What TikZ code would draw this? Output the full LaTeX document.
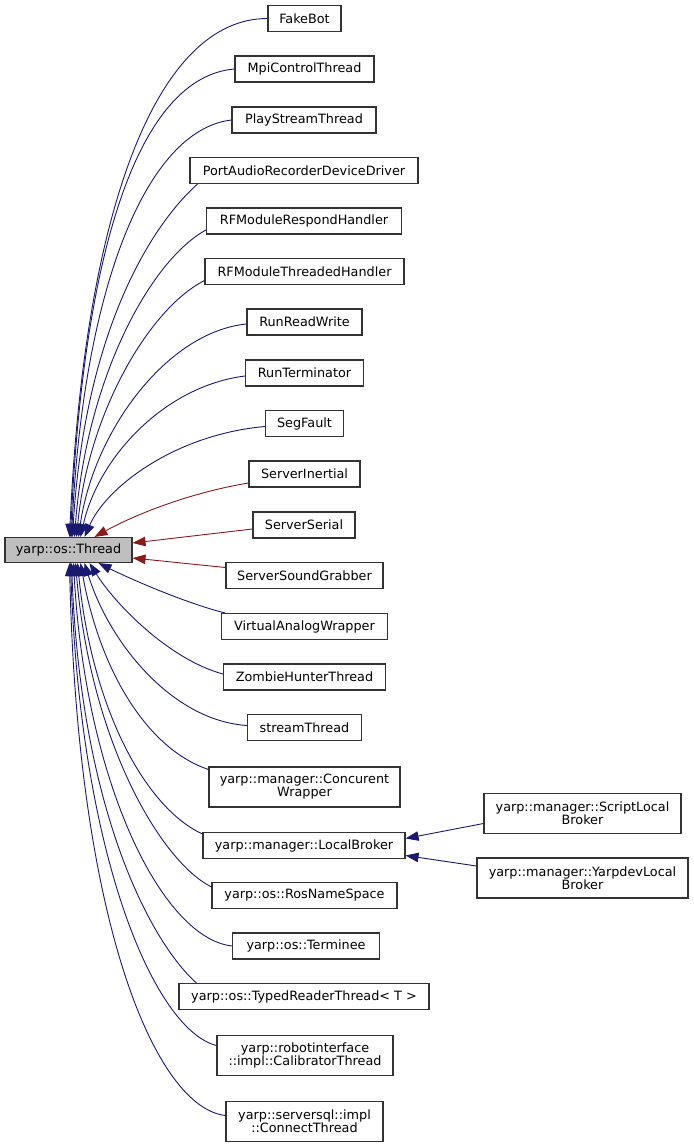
\documentclass[tikz,border=0pt]{standalone}
\usepackage{fontspec}
\setmainfont{DejaVu Sans}
\usetikzlibrary{arrows.meta}
\definecolor{mblue}{HTML}{191970}
\definecolor{fred}{HTML}{8B1A1A}
\definecolor{bord}{HTML}{333333}
\definecolor{gfill}{HTML}{BFBFBF}
\tikzset{
  cls/.style={draw=bord, line width=1.1pt, fill=white, inner sep=0pt, minimum height=26pt, align=center,
    font=\fontsize{12.8}{13}\selectfont},
  cls2/.style={cls, minimum height=40pt},
  pub/.style={draw=mblue, line width=0.9pt, {Triangle[length=13pt,width=9.5pt]}-},
  priv/.style={draw=fred, line width=0.9pt, {Triangle[length=13pt,width=9.5pt]}-},
}
\begin{document}
\begin{tikzpicture}[x=1pt,y=-1pt]
\useasboundingbox (0,0) rectangle (693,1147);
\node[cls, fill=gfill, minimum width=127pt, minimum height=25pt] (thr) at (68.5,550) {yarp::os::Thread};
\node[cls, minimum width=73pt]  (fb)  at (304.5,18.5) {FakeBot};
\node[cls, minimum width=139pt] (mpi) at (304.5,69) {MpiControlThread};
\node[cls, minimum width=144pt] (ps)  at (304,120) {PlayStreamThread};
\node[cls, minimum width=228pt] (pa)  at (304,170.5) {PortAudioRecorderDeviceDriver};
\node[cls, minimum width=195pt] (rfr) at (304,221) {RFModuleRespondHandler};
\node[cls, minimum width=199pt] (rft) at (304.5,271.5) {RFModuleThreadedHandler};
\node[cls, minimum width=115pt] (rrw) at (304.5,322) {RunReadWrite};
\node[cls, minimum width=118pt] (rt)  at (304.5,373) {RunTerminator};
\node[cls, minimum width=78pt]  (sf)  at (304.5,423.5) {SegFault};
\node[cls, minimum width=111pt] (si)  at (304.5,474) {ServerInertial};
\node[cls, minimum width=102pt] (ss)  at (304,525) {ServerSerial};
\node[cls, minimum width=157pt] (ssg) at (304.5,575.5) {ServerSoundGrabber};
\node[cls, minimum width=166pt] (vaw) at (304.5,626.5) {VirtualAnalogWrapper};
\node[cls, minimum width=162pt] (zht) at (304.5,677) {ZombieHunterThread};
\node[cls, minimum width=114pt] (st)  at (304.5,727.5) {streamThread};
\node[cls2, minimum width=191pt] (cw) at (304.5,787) {yarp::manager::Concurent\\Wrapper};
\node[cls, minimum width=202pt] (lb)  at (304,845.5) {yarp::manager::LocalBroker};
\node[cls, minimum width=185pt] (rns) at (304.5,895.5) {yarp::os::RosNameSpace};
\node[cls, minimum width=147pt] (ter) at (306,946) {yarp::os::Terminee};
\node[cls, minimum width=250pt] (trt) at (304,996.5) {yarp::os::TypedReaderThread< T >};
\node[cls2, minimum width=176pt] (cal) at (305,1055.5) {yarp::robotinterface\\::impl::CalibratorThread};
\node[cls2, minimum width=157pt] (con) at (304.5,1121.5) {yarp::serversql::impl\\::ConnectThread};
\node[cls2, minimum width=197pt] (slb) at (582.5,813.5) {yarp::manager::ScriptLocal\\Broker};
\node[cls2, minimum width=211pt] (ylb) at (582.5,878) {yarp::manager::YarpdevLocal\\Broker};
% upward edges
\draw[pub] ([xshift=1pt]thr.north)  .. controls +(15,-330) and +(-110,0) .. (fb.west);
\draw[pub] ([xshift=2pt]thr.north)  .. controls +(13,-290) and +(-95,8) .. (mpi.west);
\draw[pub] ([xshift=3pt]thr.north)  .. controls +(12,-250) and +(-85,10) .. (ps.west);
\draw[pub] ([xshift=4pt]thr.north)  .. controls +(12,-200) and +(-50,45) .. ([xshift=8pt]pa.south west);
\draw[pub] ([xshift=6pt]thr.north)  .. controls +(12,-160) and +(-55,30) .. ([yshift=-9pt]rfr.west);
\draw[pub] ([xshift=8pt]thr.north)  .. controls +(12,-125) and +(-55,28) .. ([yshift=-9pt]rft.west);
\draw[pub] ([xshift=10pt]thr.north) .. controls +(15,-105) and +(-80,8) .. ([yshift=-2pt]rrw.west);
\draw[pub] ([xshift=12pt]thr.north) .. controls +(18,-80) and +(-80,10) .. ([yshift=-3pt]rt.west);
\draw[pub] ([xshift=16pt]thr.north) .. controls +(22,-50) and +(-90,8) .. ([yshift=-3pt]sf.west);
\draw[priv] ([xshift=26pt]thr.north) .. controls +(40,-22) and +(-60,10) .. ([yshift=-9pt]si.west);
\draw[priv] ([yshift=7pt]thr.east) -- ([yshift=-4pt]ss.west);
\draw[priv] ([yshift=-8pt]thr.east) -- ([yshift=8pt]ssg.west);
% downward edges
\draw[pub] ([xshift=30pt]thr.south) .. controls +(30,15) and +(-40,-10) .. ([xshift=4pt]vaw.north west);
\draw[pub] ([xshift=21pt]thr.south) .. controls +(25,40) and +(-55,-15) .. ([yshift=3pt]zht.west);
\draw[pub] ([xshift=16pt]thr.south) .. controls +(25,80) and +(-75,-5) .. ([yshift=2pt]st.west);
\draw[pub] ([xshift=12pt]thr.south) .. controls +(20,110) and +(-60,-20) .. ([yshift=-3pt]cw.north west);
\draw[pub] ([xshift=9pt]thr.south)  .. controls +(15,150) and +(-55,-25) .. ([yshift=-2pt]lb.north west);
\draw[pub] ([xshift=7pt]thr.south)  .. controls +(15,180) and +(-50,-25) .. ([yshift=-5pt]rns.north west);
\draw[pub] ([xshift=5pt]thr.south)  .. controls +(12,220) and +(-70,-8) .. (ter.west);
\draw[pub] ([xshift=3pt]thr.south)  .. controls +(10,260) and +(-40,-35) .. ([xshift=18pt]trt.north west);
\draw[pub] ([xshift=2pt]thr.south)  .. controls +(10,300) and +(-60,-15) .. ([yshift=10pt]cal.west);
\draw[pub] ([xshift=1pt]thr.south)  .. controls +(8,360) and +(-70,-8) .. ([yshift=6pt]con.west);
% LocalBroker children
\draw[pub] ([yshift=7pt]lb.east) -- ([yshift=-10pt]slb.west);
\draw[pub] ([yshift=-10pt]lb.east) -- ([yshift=12pt]ylb.west);
\end{tikzpicture}
\end{document}
